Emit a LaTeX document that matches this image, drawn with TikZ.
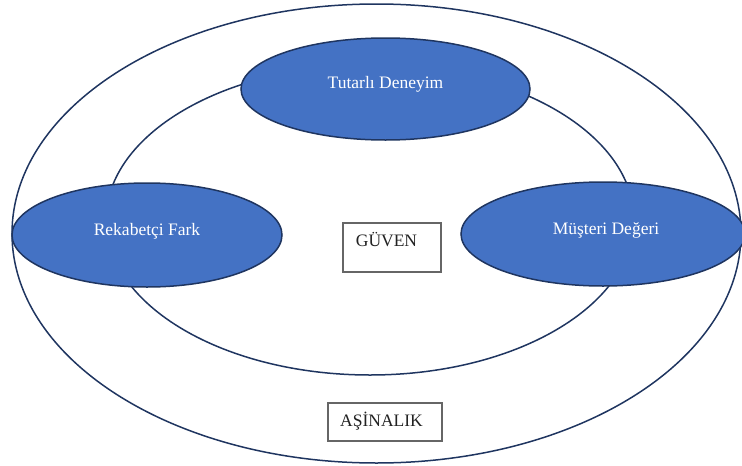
\documentclass[tikz,border=0pt]{standalone}
\usepackage{fontspec}
\setmainfont{Liberation Serif}
\usetikzlibrary{shapes.geometric}
\definecolor{navy}{HTML}{1F3560}
\definecolor{fillblue}{HTML}{4472C4}
\definecolor{boxgray}{HTML}{666666}
\definecolor{txtgray}{HTML}{222222}
\begin{document}
\begin{tikzpicture}[x=1pt,y=-1pt,
  ring/.style={draw=navy,line width=1.5pt,ellipse,inner sep=0pt},
  blob/.style={ring,fill=fillblue},
  lbl/.style={font=\fontsize{17.5}{20}\selectfont},
  wlbl/.style={lbl,text=white},
  tbox/.style={draw=boxgray,line width=1.3pt,inner sep=0pt,fill=white}]
\useasboundingbox (0,0) rectangle (742,466);
\node[ring, minimum width=729pt, minimum height=459pt] (outer) at (376.5,233.5) {};
\node[ring, minimum width=528pt, minimum height=310pt] (inner) at (370,220) {};
\node[blob, minimum width=289pt, minimum height=102pt,
  label={[wlbl,yshift=5pt]center:Tutarlı Deneyim}] (tutarli) at (385.5,89) {};
\node[blob, minimum width=270pt, minimum height=104pt,
  label={[wlbl,yshift=4pt]center:Rekabetçi Fark}] (rekabet) at (147,235) {};
\node[blob, minimum width=284pt, minimum height=104pt,
  label={[wlbl,xshift=3pt,yshift=4pt]center:Müşteri Değeri}] (musteri) at (603,234) {};
\node[tbox, minimum width=98pt, minimum height=49pt,
  label={[lbl,text=txtgray,xshift=-5.5pt,yshift=7.5pt]center:GÜVEN}] (guven) at (392,247.5) {};
\node[tbox, minimum width=114pt, minimum height=38pt,
  label={[lbl,text=txtgray,xshift=-3.5pt,yshift=1pt]center:AŞİNALIK}] (asinalik) at (385,422) {};
\end{tikzpicture}
\end{document}
